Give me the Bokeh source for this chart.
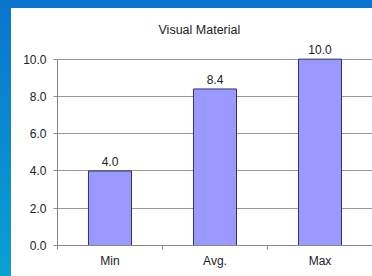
from bokeh.plotting import figure
from bokeh.models import (Range1d, FixedTicker, NumeralTickFormatter, ColumnDataSource, Spacer)
from bokeh.layouts import row, column
from bokeh.core.properties import value
from bokeh.embed import file_html
from bokeh.resources import INLINE

categories = ["Min", "Avg.", "Max"]
values = [4.0, 8.4, 10.0]
y_ticks = [0, 2, 4, 6, 8, 10]
title_text = "Visual Material"

FONT = "Liberation Sans"
centers = [i + 0.5 for i in range(len(categories))]
bounds_ticks = [i for i in range(len(categories) + 1)]

src = ColumnDataSource(dict(x=centers, top=values,
                            label=["%.1f" % v for v in values]))

p = figure(width=361, height=268, output_backend="svg", toolbar_location=None,
           x_range=Range1d(0, len(categories)), y_range=Range1d(0, 11),
           min_border_left=46, min_border_right=0, min_border_top=32,
           min_border_bottom=31, styles={"background-color": "white"})
p.outline_line_color = None
p.background_fill_color = "white"
p.border_fill_color = "white"

p.vbar(x="x", top="top", width=0.41, bottom=0, source=src,
       fill_color="#9999ff", line_color="#333366", line_width=1)
p.text(x="x", y="top", text="label", source=src, y_offset=-5,
       text_align="center", text_baseline="bottom",
       text_font=value(FONT), text_font_size="12px", text_color="#222222")

# y axis
p.yaxis.ticker = FixedTicker(ticks=y_ticks)
p.yaxis.formatter = NumeralTickFormatter(format="0.0")
p.yaxis.bounds = (y_ticks[0], y_ticks[-1])
p.yaxis.axis_line_color = "#888888"
p.yaxis.major_tick_line_color = "#888888"
p.yaxis.major_tick_out = 4
p.yaxis.major_tick_in = 0
p.yaxis.minor_tick_line_color = None
p.yaxis.major_label_standoff = 7
p.yaxis.major_label_text_font = FONT
p.yaxis.major_label_text_font_size = "12px"
p.yaxis.major_label_text_color = "#222222"

# x axis
p.xaxis.ticker = FixedTicker(ticks=centers, minor_ticks=bounds_ticks)
p.xaxis.major_label_overrides = {c: n for c, n in zip(centers, categories)}
p.xaxis.axis_line_color = "#888888"
p.xaxis.major_tick_line_color = None
p.xaxis.major_tick_out = 0
p.xaxis.major_tick_in = 0
p.xaxis.minor_tick_line_color = "#888888"
p.xaxis.minor_tick_out = 4
p.xaxis.minor_tick_in = 0
p.xaxis.major_label_standoff = 4
p.xaxis.major_label_text_font = FONT
p.xaxis.major_label_text_font_size = "12px"
p.xaxis.major_label_text_color = "#222222"

p.xgrid.grid_line_color = None
p.ygrid.ticker = FixedTicker(ticks=y_ticks)
p.ygrid.grid_line_color = "#999999"

p.title.text = title_text
p.title.align = "left"
p.title.offset = 101
p.title.standoff = 8
p.title.text_font = FONT
p.title.text_font_size = "12.5px"
p.title.text_font_style = "normal"
p.title.text_color = "#222222"

top_strip = Spacer(width=372, height=8)
left_strip = Spacer(width=11, height=268)
layout = column(top_strip, row(left_strip, p, spacing=0), spacing=0,
                styles={"background": "linear-gradient(#0a74cf, #0aa0d2)"})

open("out.html", "w").write(file_html(layout, INLINE))
